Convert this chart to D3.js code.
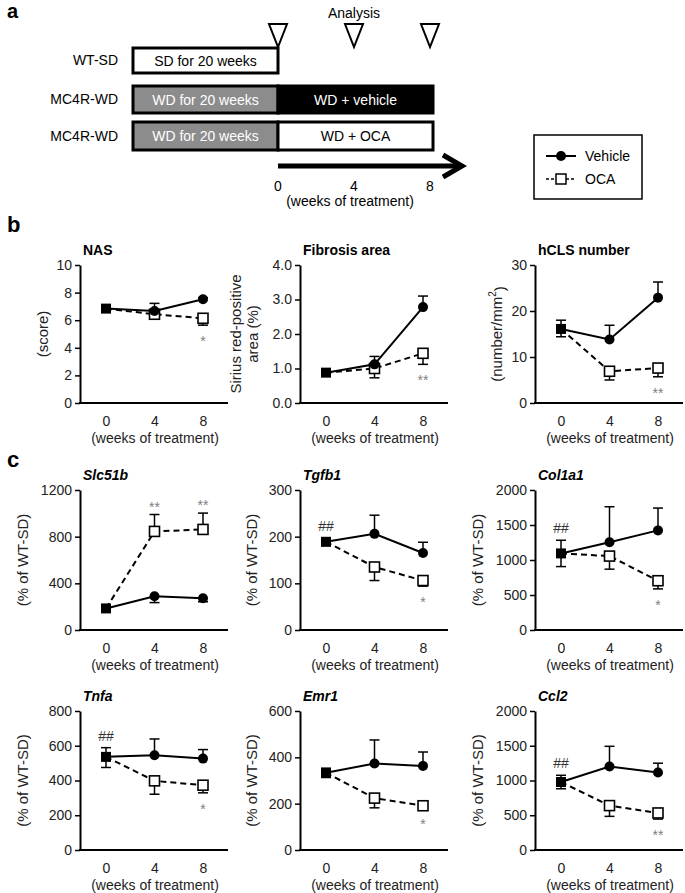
<!DOCTYPE html>
<html><head><meta charset="utf-8">
<script src="https://cdn.jsdelivr.net/npm/d3@7"></script>
<style>body{margin:0;background:#fff} svg{display:block} text{font-family:"Liberation Sans",Arial,sans-serif}</style>
</head><body><svg id="c" width="685" height="893"></svg>
<script>
// ---------- data ----------
const weeks = [0, 4, 8];
const weekLabels = ["0", "4", "8"];

// panel b
const nasTicks = [0, 2, 4, 6, 8, 10];
const nasVehicle = [6.84, 6.67, 7.52], nasVehicleErr = [0.15, 0.55, 0.12];
const nasOCA = [6.84, 6.43, 6.14], nasOCAErr = [0.15, 0.15, 0.5];
const nasSig = ["", "", "*"];

const fibTicks = [0, 1, 2, 3, 4];
const fibVehicle = [0.88, 1.12, 2.78], fibVehicleErr = [0.05, 0.23, 0.32];
const fibOCA = [0.88, 1.0, 1.44], fibOCAErr = [0.05, 0.27, 0.32];
const fibSig = ["", "", "**"];

const hclsTicks = [0, 10, 20, 30];
const hclsVehicle = [16.1, 13.8, 22.9], hclsVehicleErr = [1.9, 3.1, 3.4];
const hclsOCA = [16.1, 6.9, 7.6], hclsOCAErr = [1.7, 1.9, 1.9];
const hclsSig = ["", "", "**"];

// panel c
const slcTicks = [0, 400, 800, 1200];
const slcVehicle = [185, 290, 272], slcVehicleErr = [15, 55, 30];
const slcOCA = [185, 845, 862], slcOCAErr = [15, 145, 140];
const slcSig = ["", "**", "**"];

const tgfTicks = [0, 100, 200, 300];
const tgfVehicle = [189, 206, 165], tgfVehicleErr = [8, 40, 23];
const tgfOCA = [189, 135, 106], tgfOCAErr = [8, 29, 12];
const tgfSig = ["", "", "*"];

const colTicks = [0, 500, 1000, 1500, 2000];
const colVehicle = [1094, 1254, 1423], colVehicleErr = [188, 507, 319];
const colOCA = [1094, 1056, 704], colOCAErr = [188, 187, 117];
const colSig = ["", "", "*"];

const tnfTicks = [0, 200, 400, 600, 800];
const tnfVehicle = [536, 545, 526], tnfVehicleErr = [53, 94, 52];
const tnfOCA = [536, 398, 373], tnfOCAErr = [61, 77, 44];
const tnfSig = ["", "", "*"];

const emrTicks = [0, 200, 400, 600];
const emrVehicle = [333, 373, 363], emrVehicleErr = [20, 102, 60];
const emrOCA = [333, 224, 191], emrOCAErr = [20, 42, 10];
const emrSig = ["", "", "*"];

const cclTicks = [0, 500, 1000, 1500, 2000];
const cclVehicle = [978, 1201, 1114], cclVehicleErr = [97, 291, 135];
const cclOCA = [978, 639, 533], cclOCAErr = [97, 155, 88];
const cclSig = ["", "", "**"];

// ---------- layout ----------
const colX = [80, 300, 535];
const rowY = [{top: 265, bottom: 403}, {top: 490, bottom: 630}, {top: 711, bottom: 850}];

const panels = [
  {title: "NAS", italic: false, col: 0, row: 0, ticks: nasTicks, fmt: d3.format("d"), veh: nasVehicle, vehErr: nasVehicleErr, oca: nasOCA, ocaErr: nasOCAErr, sig: nasSig, hash: false, ylab: ["(score)"], ylx: [-37]},
  {title: "Fibrosis area", italic: false, col: 1, row: 0, ticks: fibTicks, fmt: d3.format(".1f"), veh: fibVehicle, vehErr: fibVehicleErr, oca: fibOCA, ocaErr: fibOCAErr, sig: fibSig, hash: false, ylab: ["Sirius red-positive", "area (%)"], ylx: [-64, -47]},
  {title: "hCLS number", italic: false, col: 2, row: 0, ticks: hclsTicks, fmt: d3.format("d"), veh: hclsVehicle, vehErr: hclsVehicleErr, oca: hclsOCA, ocaErr: hclsOCAErr, sig: hclsSig, hash: false, ylab: ["mm2"], ylx: [-38]},
  {title: "Slc51b", italic: true, col: 0, row: 1, ticks: slcTicks, fmt: d3.format("d"), veh: slcVehicle, vehErr: slcVehicleErr, oca: slcOCA, ocaErr: slcOCAErr, sig: slcSig, hash: false, ylab: ["(% of WT-SD)"], ylx: [-57]},
  {title: "Tgfb1", italic: true, col: 1, row: 1, ticks: tgfTicks, fmt: d3.format("d"), veh: tgfVehicle, vehErr: tgfVehicleErr, oca: tgfOCA, ocaErr: tgfOCAErr, sig: tgfSig, hash: true, ylab: ["(% of WT-SD)"], ylx: [-48]},
  {title: "Col1a1", italic: true, col: 2, row: 1, ticks: colTicks, fmt: d3.format("d"), veh: colVehicle, vehErr: colVehicleErr, oca: colOCA, ocaErr: colOCAErr, sig: colSig, hash: true, ylab: ["(% of WT-SD)"], ylx: [-57]},
  {title: "Tnfa", italic: true, col: 0, row: 2, ticks: tnfTicks, fmt: d3.format("d"), veh: tnfVehicle, vehErr: tnfVehicleErr, oca: tnfOCA, ocaErr: tnfOCAErr, sig: tnfSig, hash: true, ylab: ["(% of WT-SD)"], ylx: [-57]},
  {title: "Emr1", italic: true, col: 1, row: 2, ticks: emrTicks, fmt: d3.format("d"), veh: emrVehicle, vehErr: emrVehicleErr, oca: emrOCA, ocaErr: emrOCAErr, sig: emrSig, hash: false, ylab: ["(% of WT-SD)"], ylx: [-48]},
  {title: "Ccl2", italic: true, col: 2, row: 2, ticks: cclTicks, fmt: d3.format("d"), veh: cclVehicle, vehErr: cclVehicleErr, oca: cclOCA, ocaErr: cclOCAErr, sig: cclSig, hash: true, ylab: ["(% of WT-SD)"], ylx: [-57]}
];

const svg = d3.select("#c");
const FONT = 14;

// ---------- panel letters ----------
[["a", 18, 20], ["b", 232, 22], ["c", 467, 22]].forEach(([t, y, fs]) => {
  svg.append("text").attr("x", 7).attr("y", y).attr("font-size", fs).attr("font-weight", "bold").text(t);
});

// ---------- panel a (schematic) ----------
const sx = d3.scaleLinear().domain([0, 8]).range([278, 430]);
const ga = svg.append("g");
ga.append("text").attr("x", sx(4)).attr("y", 18).attr("text-anchor", "middle").attr("font-size", FONT).text("Analysis");
weeks.forEach(w => {
  const cx = sx(w);
  ga.append("path").attr("d", `M${cx - 9},24 L${cx + 9},24 L${cx},47 Z`).attr("fill", "#fff").attr("stroke", "#000").attr("stroke-width", 2);
});
const boxLeft = 133, boxMid = sx(0), boxRight = 433;
const rowsA = [
  {label: "WT-SD", y0: 48, y1: 73, parts: [{x0: boxLeft, x1: boxMid, fill: "#fff", text: "SD for 20 weeks", tc: "#000"}]},
  {label: "MC4R-WD", y0: 86, y1: 113, parts: [{x0: boxLeft, x1: boxMid, fill: "#8c8c8c", text: "WD for 20 weeks", tc: "#fff"}, {x0: boxMid, x1: boxRight, fill: "#000", text: "WD + vehicle", tc: "#fff"}]},
  {label: "MC4R-WD", y0: 122, y1: 150, parts: [{x0: boxLeft, x1: boxMid, fill: "#8c8c8c", text: "WD for 20 weeks", tc: "#fff"}, {x0: boxMid, x1: boxRight, fill: "#fff", text: "WD + OCA", tc: "#000"}]}
];
rowsA.forEach(r => {
  ga.append("text").attr("x", 118).attr("y", (r.y0 + r.y1) / 2).attr("dy", "0.35em").attr("text-anchor", "end").attr("font-size", FONT).text(r.label);
  r.parts.forEach(p => {
    ga.append("rect").attr("x", p.x0).attr("y", r.y0).attr("width", p.x1 - p.x0).attr("height", r.y1 - r.y0).attr("fill", p.fill).attr("stroke", "#000").attr("stroke-width", 3);
    ga.append("text").attr("x", (p.x0 + p.x1) / 2).attr("y", (r.y0 + r.y1) / 2).attr("dy", "0.36em").attr("text-anchor", "middle").attr("font-size", FONT).attr("fill", p.tc).text(p.text);
  });
});
ga.append("line").attr("x1", sx(0)).attr("x2", 459).attr("y1", 166).attr("y2", 166).attr("stroke", "#000").attr("stroke-width", 5);
ga.append("path").attr("d", "M443,155 L462,166 L443,177").attr("fill", "none").attr("stroke", "#000").attr("stroke-width", 5);
weeks.forEach((w, i) => {
  ga.append("text").attr("x", sx(w)).attr("y", 191).attr("text-anchor", "middle").attr("font-size", FONT).text(weekLabels[i]);
});
ga.append("text").attr("x", 350).attr("y", 206).attr("text-anchor", "middle").attr("font-size", FONT).text("(weeks of treatment)");

// ---------- legend ----------
const lg = svg.append("g");
lg.append("rect").attr("x", 534).attr("y", 135).attr("width", 108).attr("height", 64).attr("fill", "#fff").attr("stroke", "#000").attr("stroke-width", 1.5);
lg.append("line").attr("x1", 546).attr("x2", 576).attr("y1", 156).attr("y2", 156).attr("stroke", "#000").attr("stroke-width", 2);
lg.append("circle").attr("cx", 561).attr("cy", 156).attr("r", 5).attr("fill", "#000");
lg.append("text").attr("x", 585).attr("y", 156).attr("dy", "0.35em").attr("font-size", FONT).text("Vehicle");
lg.append("line").attr("x1", 546).attr("x2", 576).attr("y1", 179).attr("y2", 179).attr("stroke", "#000").attr("stroke-width", 1.5).attr("stroke-dasharray", "3,2");
lg.append("rect").attr("x", 556).attr("y", 174).attr("width", 10).attr("height", 10).attr("fill", "#fff").attr("stroke", "#000").attr("stroke-width", 1.5);
lg.append("text").attr("x", 585).attr("y", 179).attr("dy", "0.35em").attr("font-size", FONT).text("OCA");

// ---------- line panels ----------
panels.forEach(p => {
  const ax = colX[p.col], {top, bottom} = rowY[p.row];
  const g = svg.append("g");
  const x = d3.scaleLinear().domain([0, 8]).range([ax + 26, ax + 123]);
  const y = d3.scaleLinear().domain([0, d3.max(p.ticks)]).range([bottom, top]);

  // title
  g.append("text").attr("x", ax + 3).attr("y", top - 10).attr("font-size", FONT).attr("font-weight", "bold")
    .attr("font-style", p.italic ? "italic" : "normal").text(p.title);

  // y axis
  const yAxis = g.append("g").attr("transform", `translate(${ax},0)`)
    .call(d3.axisLeft(y).tickValues(p.ticks).tickFormat(p.fmt).tickSize(5).tickSizeOuter(0).tickPadding(3));
  yAxis.select(".domain").attr("stroke-width", 2);
  yAxis.selectAll(".tick line").attr("stroke-width", 1.5);
  yAxis.selectAll("text").attr("font-size", FONT).attr("font-family", "Liberation Sans, Arial, sans-serif").attr("fill", "#222");

  // x axis
  g.append("line").attr("x1", ax - 1).attr("x2", ax + 148).attr("y1", bottom).attr("y2", bottom).attr("stroke", "#000").attr("stroke-width", 2);
  const xAxis = g.append("g").attr("transform", `translate(0,${bottom})`)
    .call(d3.axisBottom(x).tickValues(weeks).tickFormat((d, i) => weekLabels[i]).tickSize(0).tickPadding(13));
  xAxis.select(".domain").remove();
  xAxis.selectAll("text").attr("font-size", FONT).attr("font-family", "Liberation Sans, Arial, sans-serif").attr("fill", "#222");
  g.append("text").attr("x", ax + 75).attr("y", bottom + 40).attr("text-anchor", "middle").attr("font-size", FONT).attr("fill", "#222").text("(weeks of treatment)");

  // y label
  const midY = (top + bottom) / 2;
  if (p.ylab[0] === "mm2") {
    const t = g.append("text").attr("transform", `translate(${ax + p.ylx[0]},${midY}) rotate(-90)`).attr("text-anchor", "middle").attr("dy", "0.35em").attr("font-size", 15).attr("fill", "#222");
    t.append("tspan").text("(number/mm");
    t.append("tspan").attr("font-size", 10).attr("dy", "-0.6em").text("2");
    t.append("tspan").attr("dy", "0.6em").text(")");
  } else {
    p.ylab.forEach((l, i) => {
      g.append("text").attr("transform", `translate(${ax + p.ylx[i]},${midY}) rotate(-90)`).attr("text-anchor", "middle").attr("dy", "0.35em").attr("font-size", 15).attr("fill", "#222").text(l);
    });
  }

  const vehDir = p.veh[2] >= p.oca[2] ? 1 : -1; // +1 = vehicle bars go up
  const vehData = weeks.map((w, i) => ({w, v: p.veh[i], e: p.vehErr[i]}));
  const ocaData = weeks.map((w, i) => ({w, v: p.oca[i], e: p.ocaErr[i]}));

  const line = d3.line().x(d => x(d.w)).y(d => y(d.v));
  g.append("path").datum(ocaData).attr("d", line).attr("fill", "none").attr("stroke", "#000").attr("stroke-width", 2).attr("stroke-dasharray", "6,4");
  g.append("path").datum(vehData).attr("d", line).attr("fill", "none").attr("stroke", "#000").attr("stroke-width", 2);

  // error bars
  function errBar(d, dir) {
    const yEnd = y(d.v + dir * d.e);
    g.append("line").attr("x1", x(d.w)).attr("x2", x(d.w)).attr("y1", y(d.v)).attr("y2", yEnd).attr("stroke", "#000").attr("stroke-width", 1.5);
    g.append("line").attr("x1", x(d.w) - 5).attr("x2", x(d.w) + 5).attr("y1", yEnd).attr("y2", yEnd).attr("stroke", "#000").attr("stroke-width", 1.5);
  }
  vehData.forEach(d => errBar(d, vehDir));
  ocaData.forEach(d => errBar(d, -vehDir));

  // markers
  const later = [1, 2];
  g.selectAll(null).data(later.map(i => ocaData[i])).join("rect")
    .attr("x", d => x(d.w) - 5).attr("y", d => y(d.v) - 5).attr("width", 10).attr("height", 10)
    .attr("fill", "#fff").attr("stroke", "#000").attr("stroke-width", 1.6);
  g.selectAll(null).data(later.map(i => vehData[i])).join("circle")
    .attr("cx", d => x(d.w)).attr("cy", d => y(d.v)).attr("r", 5).attr("fill", "#000");
  g.append("rect").attr("x", x(0) - 5).attr("y", y(vehData[0].v) - 5).attr("width", 10).attr("height", 10).attr("fill", "#000");

  // significance
  p.sig.forEach((s, i) => {
    if (!s) return;
    const d = ocaData[i];
    const end = y(d.v - vehDir * d.e);
    const yy = vehDir > 0 ? end + 21 : end - 3;
    g.append("text").attr("x", x(d.w)).attr("y", yy).attr("text-anchor", "middle").attr("font-size", FONT).attr("fill", "#808080").text(s);
  });
  if (p.hash) {
    const d = vehData[0];
    g.append("text").attr("x", x(0)).attr("y", y(d.v + d.e) - 7).attr("text-anchor", "middle").attr("font-size", FONT).attr("fill", "#333").text("##");
  }
});
</script></body></html>
